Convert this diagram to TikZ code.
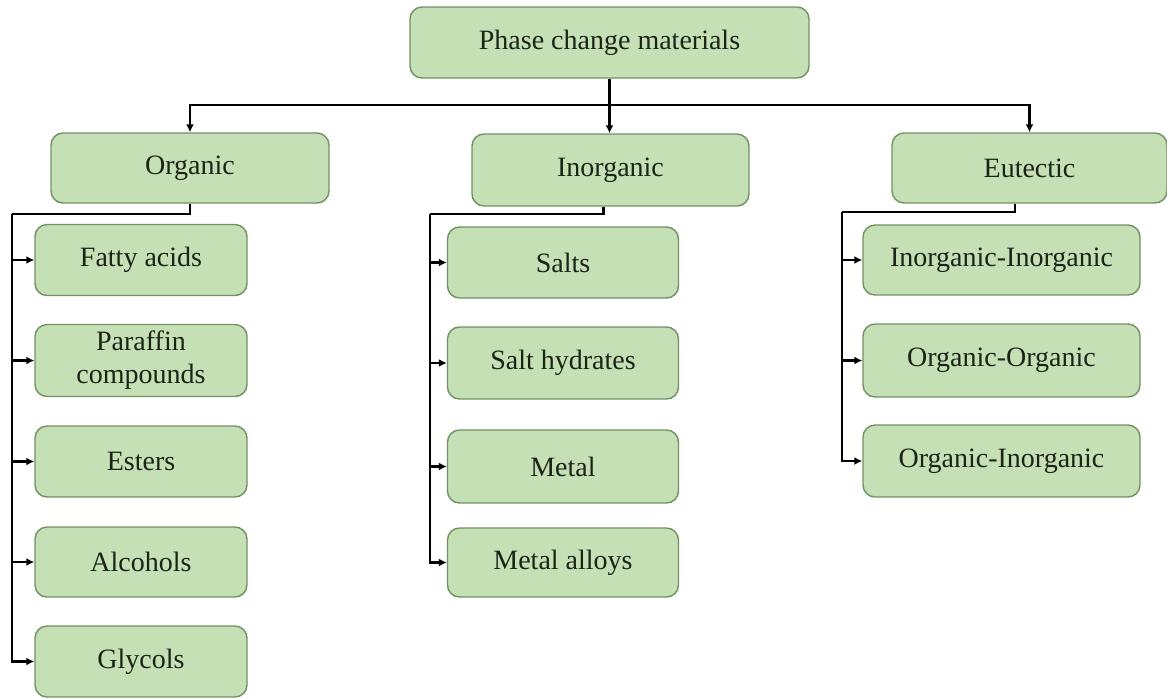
\documentclass[tikz,border=0pt]{standalone}
\usepackage{fontspec}
\setmainfont{Liberation Serif}
\usetikzlibrary{arrows.meta}
\definecolor{boxfill}{HTML}{C5E0B4}
\definecolor{boxline}{HTML}{738F65}
\definecolor{boxtext}{HTML}{1C2418}

\begin{document}
\begin{tikzpicture}[x=0.5pt, y=-0.5pt,
  box/.style={draw=boxline, fill=boxfill, line width=0.7pt, rounded corners=6pt, align=center, inner sep=0pt, text=boxtext, font=\fontsize{14pt}{16.5pt}\selectfont},
  link/.style={line width=1.2pt, draw=black},
  arr/.style={link, -{Latex[length=4pt, width=4pt]}}]
\useasboundingbox (0,0) rectangle (1167,698);
% top
\node[box, minimum width=199.5pt, minimum height=35.5pt] (pcm) at (609.5, 42.5) {Phase change materials};
% main groups
\node[box, minimum width=139pt, minimum height=35pt] (org) at (190, 168) {Organic};
\node[box, minimum width=138.5pt, minimum height=36pt] (inorg) at (610.5, 170) {Inorganic};
\node[box, minimum width=137.5pt, minimum height=35pt] (eut) at (1029.5, 168) {Eutectic};
% organic
\node[box, minimum width=106pt, minimum height=35.5pt] (fatty) at (141, 260) {Fatty acids};
\node[box, minimum width=106pt, minimum height=36pt] (paraffin) at (141, 360.5) {Paraffin\\compounds};
\node[box, minimum width=106pt, minimum height=35.5pt] (esters) at (141, 461.5) {Esters};
\node[box, minimum width=106pt, minimum height=35pt] (alcohols) at (141, 562) {Alcohols};
\node[box, minimum width=106pt, minimum height=35.5pt] (glycols) at (141, 661.5) {Glycols};
% inorganic
\node[box, minimum width=115.5pt, minimum height=35.5pt] (salts) at (563, 262.5) {Salts};
\node[box, minimum width=115.5pt, minimum height=36pt] (salthyd) at (563, 363) {Salt hydrates};
\node[box, minimum width=115.5pt, minimum height=36.5pt] (metal) at (563, 466.5) {Metal};
\node[box, minimum width=115.5pt, minimum height=34.5pt] (alloys) at (563, 562.5) {Metal alloys};
% eutectic
\node[box, minimum width=138.5pt, minimum height=35pt] (ii) at (1001.5, 260) {Inorganic-Inorganic};
\node[box, minimum width=138.5pt, minimum height=36.5pt] (oo) at (1001.5, 360.5) {Organic-Organic};
\node[box, minimum width=138.5pt, minimum height=36pt] (oi) at (1001.5, 461) {Organic-Inorganic};

\coordinate (hub) at (609.5, 105);
\coordinate (orgbus) at (12, 214);
\coordinate (inorgbus) at (430, 214);
\coordinate (eutbus) at (842, 212);

\draw[link] (pcm.south) -- (hub);
\draw[arr] (hub) -| (org.north);
\draw[arr] (hub) -- (hub |- inorg.north);
\draw[arr] (hub) -| (eut.north);

\draw[link] (org.south) |- (orgbus);
\foreach \n in {fatty, paraffin, esters, alcohols, glycols}
  \draw[arr] (orgbus) |- (\n.west);

\draw[link] ([xshift=-3.5pt]inorg.south) |- (inorgbus);
\foreach \n in {salts, salthyd, metal, alloys}
  \draw[arr] (inorgbus) |- (\n.west);

\draw[link] ([xshift=-7.2pt]eut.south) |- (eutbus);
\foreach \n in {ii, oo, oi}
  \draw[arr] (eutbus) |- (\n.west);
\end{tikzpicture}
\end{document}
